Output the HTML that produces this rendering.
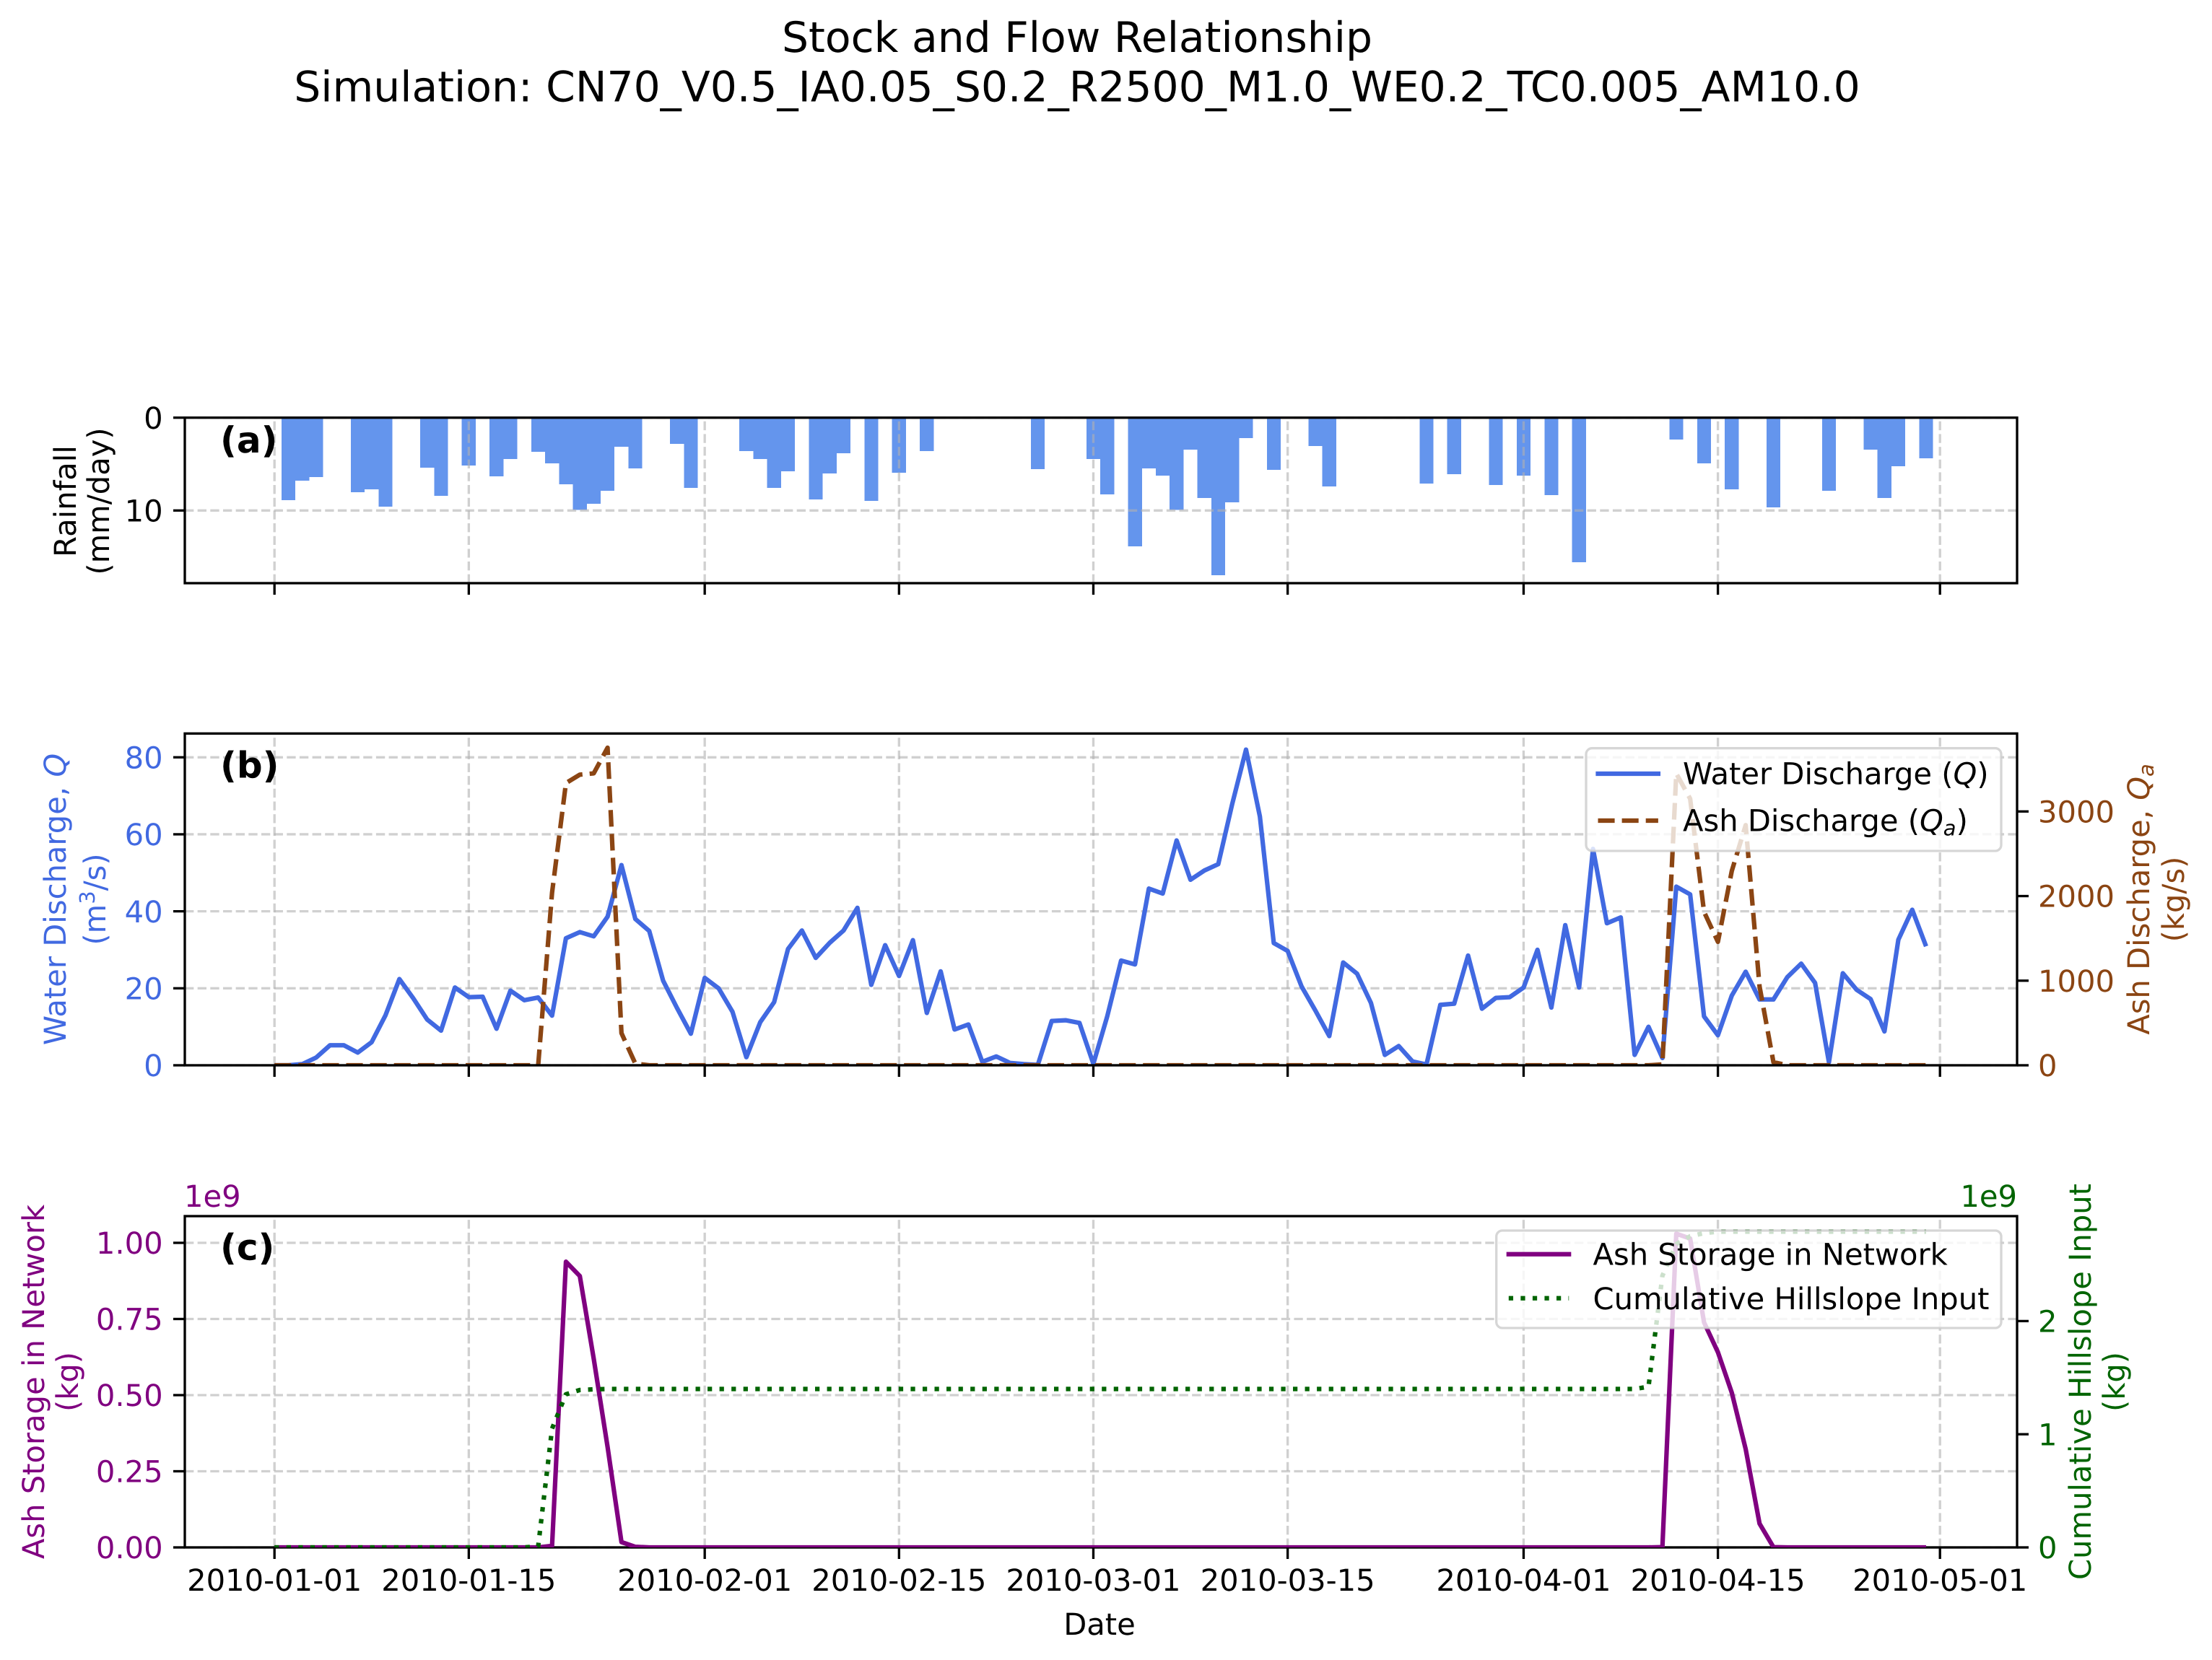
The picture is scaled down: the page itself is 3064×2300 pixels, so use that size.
<!DOCTYPE html>
<html lang="en">
<head>
<meta charset="utf-8">
<title>Stock and Flow Relationship</title>
<style>
html,body{margin:0;padding:0;background:#fff;}
svg{display:block;}
text{font-family:"DejaVu Sans","Liberation Sans",sans-serif;font-size:41.67px;fill:#000;}
</style>
</head>
<body>
<svg id="figure" xmlns="http://www.w3.org/2000/svg" width="3064" height="2300" viewBox="0 0 3064 2300" text-rendering="geometricPrecision">
  <rect x="0" y="0" width="3064" height="2300" fill="#ffffff"/>
  <defs>
    <clipPath id="clip-a"><rect x="256" y="578.7" width="2538" height="229.3"/></clipPath>
    <clipPath id="clip-b"><rect x="256" y="1016.3" width="2538" height="459.7"/></clipPath>
    <clipPath id="clip-c"><rect x="256" y="1685" width="2538" height="459"/></clipPath>
  </defs>
  <text x="1492" y="72" text-anchor="middle" style="font-size:58.33px">Stock and Flow Relationship</text>
  <text x="1492" y="140.7" text-anchor="middle" style="font-size:58.33px">Simulation: CN70_V0.5_IA0.05_S0.2_R2500_M1.0_WE0.2_TC0.005_AM10.0</text>

  <g id="panel-a"></g>
  <g id="panel-b"></g>
  <g id="panel-c"></g>
  <g id="top-layer">
    <text transform="translate(105,694.5) rotate(-90)" text-anchor="middle">Rainfall</text>
    <text transform="translate(151,694.5) rotate(-90)" text-anchor="middle">(mm/day)</text>

    <text transform="translate(91,1246) rotate(-90)" text-anchor="middle" style="fill:#4169E1">Water Discharge, <tspan font-style="italic" style="fill:#4169E1">Q</tspan></text>
    <text transform="translate(146,1246) rotate(-90)" text-anchor="middle" style="fill:#4169E1">(m<tspan dy="-15" font-size="29" style="fill:#4169E1">3</tspan><tspan dy="15" style="fill:#4169E1">/s)</tspan></text>

    <text transform="translate(2977,1246) rotate(-90)" text-anchor="middle" style="fill:#8B4513">Ash Discharge, <tspan font-style="italic" style="fill:#8B4513">Q</tspan><tspan dy="6" font-size="29" font-style="italic" style="fill:#8B4513">a</tspan></text>
    <text transform="translate(3025,1246) rotate(-90)" text-anchor="middle" style="fill:#8B4513">(kg/s)</text>

    <text transform="translate(61,1914.5) rotate(-90)" text-anchor="middle" style="fill:#800080">Ash Storage in Network</text>
    <text transform="translate(108,1914.5) rotate(-90)" text-anchor="middle" style="fill:#800080">(kg)</text>

    <text transform="translate(2896,1914.5) rotate(-90)" text-anchor="middle" style="fill:#006400">Cumulative Hillslope Input</text>
    <text transform="translate(2943,1914.5) rotate(-90)" text-anchor="middle" style="fill:#006400">(kg)</text>

    <text x="255" y="1672" style="fill:#800080">1e9</text>
    <text x="2794" y="1672" text-anchor="end" style="fill:#006400">1e9</text>

    <text x="1523" y="2265" text-anchor="middle">Date</text>

    <text x="305" y="627" style="font-size:50px;font-weight:bold">(a)</text>
    <text x="305" y="1077.5" style="font-size:50px;font-weight:bold">(b)</text>
    <text x="305" y="1745.5" style="font-size:50px;font-weight:bold">(c)</text>

    <g>
      <rect x="2197" y="1036.7" width="575" height="142.3" rx="8.3" fill="#ffffff" fill-opacity="0.8" stroke="#cccccc" stroke-opacity="0.8" stroke-width="3.33"/>
      <line x1="2213.5" y1="1072" x2="2296.9" y2="1072" stroke="#4169E1" stroke-width="6.25" stroke-linecap="square"/>
      <text x="2331" y="1086.7">Water Discharge (<tspan font-style="italic">Q</tspan>)</text>
      <line x1="2213.5" y1="1137" x2="2296.9" y2="1137" stroke="#8B4513" stroke-width="6.25" stroke-dasharray="23.1 10"/>
      <text x="2331" y="1151.7">Ash Discharge (<tspan font-style="italic">Q</tspan><tspan dy="6" font-size="29" font-style="italic">a</tspan><tspan dy="-6">)</tspan></text>
    </g>
    <g>
      <rect x="2072.7" y="1705" width="699.3" height="135" rx="8.3" fill="#ffffff" fill-opacity="0.8" stroke="#cccccc" stroke-opacity="0.8" stroke-width="3.33"/>
      <line x1="2089.8" y1="1737.7" x2="2173.2" y2="1737.7" stroke="#800080" stroke-width="6.25" stroke-linecap="square"/>
      <text x="2206.5" y="1752.7">Ash Storage in Network</text>
      <line x1="2089.8" y1="1798.7" x2="2173.2" y2="1798.7" stroke="#006400" stroke-width="6.25" stroke-dasharray="6.25 10.3"/>
      <text x="2206.5" y="1814">Cumulative Hillslope Input</text>
    </g>
  </g>
</svg>
<script>
// ---- chart data ----
var tickDays = [0, 14, 31, 45, 59, 73, 90, 104, 120];
var tickDates = ["2010-01-01","2010-01-15","2010-02-01","2010-02-15","2010-03-01","2010-03-15","2010-04-01","2010-04-15","2010-05-01"];

var rainTicks = [0, 10];
var rainDays = [1,2,3,6,7,8,11,12,14,16,17,19,20,21,22,23,24,25,26,29,30,34,35,36,37,39,40,41,43,45,47,55,59,60,62,63,64,65,66,67,68,69,70,72,75,76,83,85,88,90,92,94,101,103,105,108,112,115,116,117,119];
var rainValues = [8.89,6.79,6.4,8.03,7.72,9.59,5.39,8.42,5.16,6.32,4.46,3.68,4.92,7.18,9.95,9.27,7.88,3.13,5.47,2.82,7.56,3.6,4.46,7.56,5.78,8.81,6.01,3.83,8.96,5.93,3.6,5.54,4.46,8.26,13.86,5.47,6.24,9.95,3.45,8.65,16.97,9.12,2.2,5.62,3.06,7.41,7.1,6.09,7.25,6.24,8.34,15.57,2.36,4.92,7.72,9.66,7.88,3.45,8.65,5.23,4.38];

var waterTicks = [0, 20, 40, 60, 80];
var ashTicks = [0, 1000, 2000, 3000];
var waterDischarge = [
0,0,0.3,2,5.2,5.2,3.3,6,13,22.4,
17.4,11.9,9,20.2,17.7,17.8,9.5,19.4,16.9,17.6,
12.9,33,34.6,33.5,38.6,52,38,34.9,22,14.9,
8.2,22.7,20,13.9,2.1,11.2,16.4,30.2,35,27.9,
31.8,35,40.9,20.9,31.2,23.2,32.5,13.6,24.4,9.3,
10.6,0.9,2.3,0.6,0.3,0.1,11.5,11.7,11,0.4,
12.7,27.2,26.2,45.9,44.6,58.4,48.2,50.6,52.25,67.8,
82,64.6,31.75,29.7,20.5,14.2,7.6,26.7,23.8,16.2,
2.7,5,1,0.2,15.7,16,28.5,14.7,17.5,17.7,
20.2,30,15,36.4,20.2,56.2,36.9,38.4,2.7,10,
1.9,46.4,44.4,12.7,7.8,18.1,24.3,17.1,17.1,22.9,
26.4,21.4,0.8,23.9,19.6,17.2,8.8,32.6,40.4,30.9];
var ashDischarge = [
0,0,0,0,0,0,0,0,0,0,
0,0,0,0,0,0,0,0,0,0,
2040,3335,3435,3450,3753,380,20,0,0,0,
0,0,0,0,0,0,0,0,0,0,
0,0,0,0,0,0,0,0,0,0,
0,0,0,0,0,0,0,0,0,0,
0,0,0,0,0,0,0,0,0,0,
0,0,0,0,0,0,0,0,0,0,
0,0,0,0,0,0,0,0,0,0,
0,0,0,0,0,0,0,0,0,0,
10,3449,3150,1814,1459,2297,2838,932,37,0,
0,0,0,0,0,0,0,0,0,0];

var storageTicks = [0, 0.25, 0.5, 0.75, 1];
var storageTickLabels = ["0.00","0.25","0.50","0.75","1.00"];
var hillTicks = [0, 1, 2];
var ashStorage = [
0,0,0,0,0,0,0,0,0,0,
0,0,0,0,0,0,0,0,0,0,
0.005,0.938,0.891,0.62,0.33,0.0175,0.002,0,0,0,
0,0,0,0,0,0,0,0,0,0,
0,0,0,0,0,0,0,0,0,0,
0,0,0,0,0,0,0,0,0,0,
0,0,0,0,0,0,0,0,0,0,
0,0,0,0,0,0,0,0,0,0,
0,0,0,0,0,0,0,0,0,0,
0,0,0,0,0,0,0,0,0,0,
0.001,1.03,1.014,0.739,0.641,0.508,0.323,0.078,0.001,0,
0,0,0,0,0,0,0,0,0,0];
var hillslopeInput = [
0,0,0,0,0,0,0,0,0,0,
0,0,0,0,0,0,0,0,0,0.01,
1.05,1.353,1.391,1.397,1.4,1.4,1.4,1.4,1.4,1.4,
1.4,1.4,1.4,1.4,1.4,1.4,1.4,1.4,1.4,1.4,
1.4,1.4,1.4,1.4,1.4,1.4,1.4,1.4,1.4,1.4,
1.4,1.4,1.4,1.4,1.4,1.4,1.4,1.4,1.4,1.4,
1.4,1.4,1.4,1.4,1.4,1.4,1.4,1.4,1.4,1.4,
1.4,1.4,1.4,1.4,1.4,1.4,1.4,1.4,1.4,1.4,
1.4,1.4,1.4,1.4,1.4,1.4,1.4,1.4,1.4,1.4,
1.4,1.4,1.4,1.4,1.4,1.4,1.4,1.4,1.4,1.42,
2.4,2.68,2.75,2.777,2.79,2.79,2.79,2.79,2.79,2.79,
2.79,2.79,2.79,2.79,2.79,2.79,2.79,2.79,2.79,2.79];

// ---- axis functions ----
var LEFT = 256, RIGHT = 2794;
var A_TOP = 578.7, A_BOT = 808, B_TOP = 1016.3, B_BOT = 1476, C_TOP = 1685, C_BOT = 2144;
function xDay(d) { return 380.2 + 19.225 * d; }
function yRain(v) { return A_TOP + 12.86 * v; }
function yWater(v) { return B_BOT - 5.334 * v; }
function yAsh(v) { return B_BOT - 0.11723 * v; }
function yStorage(v) { return C_BOT - 422 * v; }
function yHill(v) { return C_BOT - 156.8 * v; }

// ---- drawing helpers ----
var NS = "http://www.w3.org/2000/svg";
function mk(tag, attrs, parent) {
  var e = document.createElementNS(NS, tag);
  for (var k in attrs) { e.setAttribute(k, attrs[k]); }
  parent.appendChild(e);
  return e;
}
var GRID = { stroke: "#b0b0b0", "stroke-opacity": 0.6, "stroke-width": 3.33, "stroke-dasharray": "12.33 5.33", fill: "none" };
function drawVGrid(parent, top, bot) {
  tickDays.forEach(function (d) {
    var g = mk("line", Object.assign({ x1: xDay(d), x2: xDay(d), y1: bot, y2: top }, GRID), parent);
    
    
  });
}
function drawHGrid(parent, values, yFn) {
  values.forEach(function (v) {
    var g = mk("line", Object.assign({ x1: LEFT, x2: RIGHT, y1: yFn(v), y2: yFn(v) }, GRID), parent);
    
    
  });
}
function drawSeries(parent, values, yFn, color, dash, clip, name) {
  var pts = values.map(function (v, i) { return xDay(i).toFixed(2) + "," + yFn(v).toFixed(2); }).join(" ");
  var p = mk("polyline", { points: pts, fill: "none", stroke: color, "stroke-width": 6.25, "stroke-linejoin": "round", "clip-path": "url(#" + clip + ")" }, parent);
  if (dash) { p.setAttribute("stroke-dasharray", dash); }
  
  
}
function drawFrame(parent, top, bot, name) {
  var r = mk("rect", { x: LEFT, y: top, width: RIGHT - LEFT, height: bot - top, fill: "none", stroke: "#000", "stroke-width": 3.33 }, parent);
  
  
}
function drawXTicks(parent, bot, withLabels) {
  tickDays.forEach(function (d, i) {
    var t = mk("line", { x1: xDay(d), x2: xDay(d), y1: bot, y2: bot + 16, stroke: "#000", "stroke-width": 3.33 }, parent);
    
    
    if (withLabels) {
      var l = mk("text", { x: xDay(d), y: 2204, "text-anchor": "middle" }, parent);
      l.textContent = tickDates[i];
      
      
    }
  });
}
function drawYTicks(parent, values, labels, yFn, side, color, name) {
  values.forEach(function (v, i) {
    var y = yFn(v);
    var x1 = side === "left" ? LEFT : RIGHT;
    var x2 = side === "left" ? LEFT - 16 : RIGHT + 16;
    var t = mk("line", { x1: x1, x2: x2, y1: y, y2: y, stroke: "#000", "stroke-width": 3.33 }, parent);
    
    
    var l = mk("text", { x: side === "left" ? 225.7 : 2823, y: y + 15.2, "text-anchor": side === "left" ? "end" : "start", style: "fill:" + color }, parent);
    l.textContent = labels[i];
    
    
  });
}

// ---- panel (a): rainfall ----
var pa = document.getElementById("panel-a");
rainDays.forEach(function (d, i) {
  var y0 = yRain(0);
  var b = mk("rect", { x: xDay(d - 0.5), y: y0, width: xDay(d + 0.5) - xDay(d - 0.5), height: yRain(rainValues[i]) - y0, fill: "#6495ED", "shape-rendering": "crispEdges", "clip-path": "url(#clip-a)" }, pa);
  
  
});
drawVGrid(pa, A_TOP, A_BOT);
drawHGrid(pa, rainTicks, yRain);
drawFrame(pa, A_TOP, A_BOT, 'rainfall-axes-frame');
drawXTicks(pa, A_BOT, false);
drawYTicks(pa, rainTicks, rainTicks, yRain, "left", "#000", 'rainfall-y');

// ---- panel (b): discharge ----
var pb = document.getElementById("panel-b");
drawVGrid(pb, B_TOP, B_BOT);
drawHGrid(pb, waterTicks, yWater);
drawSeries(pb, waterDischarge, yWater, "#4169E1", null, "clip-b", 'water-discharge-line');
drawSeries(pb, ashDischarge, yAsh, "#8B4513", "23.1 10", "clip-b", 'ash-discharge-line');
drawFrame(pb, B_TOP, B_BOT, 'discharge-axes-frame');
drawXTicks(pb, B_BOT, false);
drawYTicks(pb, waterTicks, waterTicks, yWater, "left", "#4169E1", 'water-discharge-y');
drawYTicks(pb, ashTicks, ashTicks, yAsh, "right", "#8B4513", 'ash-discharge-y');

// ---- panel (c): storage ----
var pc = document.getElementById("panel-c");
drawVGrid(pc, C_TOP, C_BOT);
drawHGrid(pc, storageTicks, yStorage);
drawFrame(pc, C_TOP, C_BOT, 'storage-axes-frame');
drawSeries(pc, ashStorage, yStorage, "#800080", null, "clip-c", 'ash-storage-line');
drawSeries(pc, hillslopeInput, yHill, "#006400", "6.25 10.3", "clip-c", 'hillslope-input-line');
drawXTicks(pc, C_BOT, true);
drawYTicks(pc, storageTicks, storageTickLabels, yStorage, "left", "#800080", 'ash-storage-y');
drawYTicks(pc, hillTicks, hillTicks, yHill, "right", "#006400", 'hillslope-input-y');
</script>
</body>
</html>
